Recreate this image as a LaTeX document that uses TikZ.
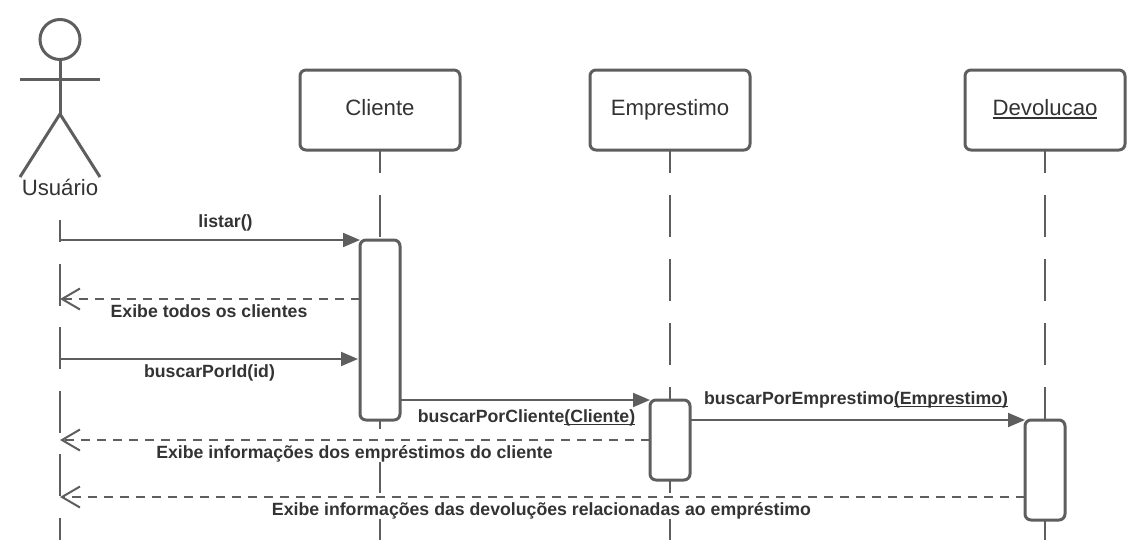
\documentclass[tikz,border=0pt]{standalone}
\usepackage{fontspec}
\setmainfont{Liberation Sans}
\usetikzlibrary{arrows.meta}
\definecolor{ln}{HTML}{5E5E5E}
\definecolor{tx}{HTML}{333333}
\newcommand\myunder[2][3]{\leavevmode\setbox0\hbox{#2}\rlap{\rule[-#1pt]{\wd0}{1.3pt}}\box0}
\newcommand\fs[1]{\fontsize{#1}{#1}\selectfont}
\tikzset{
  lifebox/.style={draw=ln,line width=3pt,rounded corners=6pt,fill=white,minimum width=160pt,minimum height=80pt,inner sep=0pt,outer sep=0pt,text=tx,anchor=center,font=\fs{22.2},text height=16pt,text depth=6pt},
  actbox/.style={draw=ln,line width=3pt,rounded corners=6pt,fill=white,minimum width=40pt,inner sep=0pt,outer sep=0pt},
  lifeline/.style={draw=ln,line width=2pt,dash pattern=on 42pt off 22pt,dash phase=19pt},
  actorline/.style={draw=ln,line width=2pt,dash pattern=on 42pt off 21.5pt,dash phase=20pt},
  limb/.style={draw=ln,line width=3pt},
  callmsg/.style={draw=ln,line width=2pt,-{Triangle[length=17pt,width=14pt]}},
  retmsg/.style={draw=ln,line width=2pt,dash pattern=on 9pt off 7pt,-{Straight Barb[length=18pt,width=21pt,line width=2pt]}},
  msglabel/.style={fill=white,inner sep=0.5pt,text=tx,font=\bfseries\fs{17.7},text height=12.5pt,text depth=3.5pt},
}
\begin{document}
\begin{tikzpicture}[x=1pt,y=-1pt]
\useasboundingbox (0,0) rectangle (1145,543);
% actor coordinates
\coordinate (hip) at (60,114);
\coordinate (armL) at (20,79);
\coordinate (armR) at (100,79);
\coordinate (footL) at (20,177);
\coordinate (footR) at (100,177);
\coordinate (uTop) at (60,220);
\coordinate (uEnd) at (60,540);
\coordinate (cEnd) at (380,540);
\coordinate (eEnd) at (670,540);
\coordinate (dEnd) at (1045,540);
% participants
\node[lifebox] (cliente) at (380,110) {Cliente};
\node[lifebox] (emprestimo) at (670,110) {Emprestimo};
\node[lifebox] (devolucao) at (1045,110) {\myunder[3.5]{Devolucao}};
% lifelines
\draw[actorline] (uTop) -- (uEnd);
\draw[lifeline] (cliente.south) -- (cEnd);
\draw[lifeline] (emprestimo.south) -- (eEnd);
\draw[lifeline] (devolucao.south) -- (dEnd);
% actor
\node[draw=ln,line width=3pt,circle,minimum size=40pt,inner sep=0pt,outer sep=0pt] (head) at (60,39.5) {};
\draw[limb] (head.south) -- (hip);
\draw[limb] (armL) -- (armR);
\draw[limb,line join=miter] (footL) -- (hip) -- (footR);
\node[text=tx,font=\fs{22.2},inner sep=0pt] (usuario) at (60,187.5) {Usuário};
% activations
\node[actbox,minimum height=180pt] (acl) at (380,330) {};
\node[actbox,minimum height=80pt] (aem) at (670,440) {};
\node[actbox,minimum height=100pt] (ade) at (1045,470) {};
% message ends
\coordinate (m1) at (60,240);
\coordinate (m2) at (60,299);
\coordinate (m3) at (60,359);
\coordinate (m4) at (60,440);
\coordinate (m5) at (60,497);
\coordinate (m6) at (400,400);
\coordinate (m7) at (690,420);
\draw[callmsg] (m1) -- (m1 -| acl.west);
\draw[retmsg] (m2 -| acl.west) -- (m2);
\draw[callmsg,shorten >=2pt] (m3) -- (m3 -| acl.west);
\draw[callmsg] (m6) -- (m6 -| aem.west);
\draw[callmsg] (m7) -- (m7 -| ade.west);
\draw[retmsg] (m4 -| aem.west) -- (m4);
\draw[retmsg] (m5 -| ade.west) -- (m5);
% labels
\node[msglabel] (l1) at (225.5,223) {listar()};
\node[msglabel] (l2) at (209,312.5) {Exibe todos os clientes};
\node[msglabel] (l3) at (209.5,372.5) {buscarPorId(id)};
\node[msglabel] (l4) at (526.5,417.5) {buscarPorCliente\myunder{(Cliente)}};
\node[msglabel] (l5) at (856,399.5) {buscarPorEmprestimo\myunder{(Emprestimo)}};
\node[msglabel] (l6) at (354.5,453.5) {Exibe informações dos empréstimos do cliente};
\node[msglabel] (l7) at (541.5,510.5) {Exibe informações das devoluções relacionadas ao empréstimo};
\end{tikzpicture}
\end{document}
